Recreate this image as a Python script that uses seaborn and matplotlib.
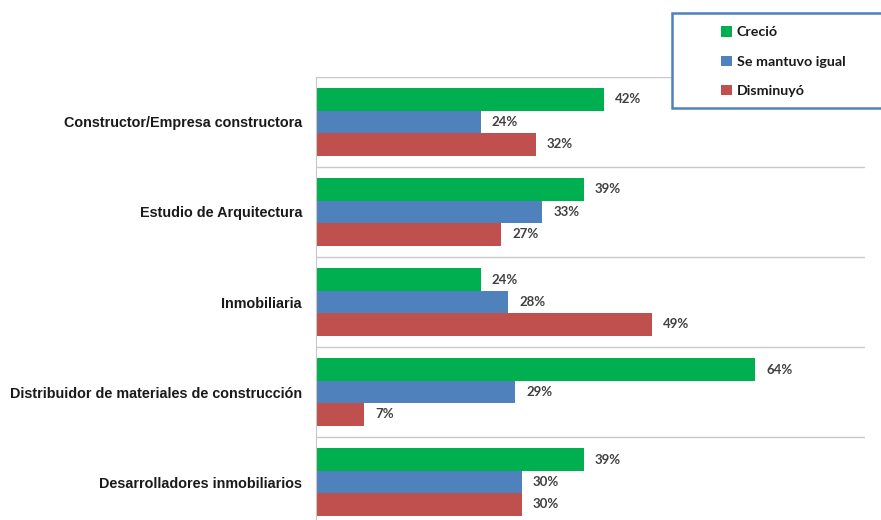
import pandas as pd
import matplotlib
matplotlib.use("Agg")
import matplotlib.pyplot as plt
import seaborn as sns
from matplotlib.patches import Rectangle

# -------------------------------
# DATA
# -------------------------------
categorias = [
    "Constructor/Empresa constructora",
    "Estudio de Arquitectura",
    "Inmobiliaria",
    "Distribuidor de materiales de construcción",
    "Desarrolladores inmobiliarios",
]
crecio = [42, 39, 24, 64, 39]
se_mantuvo = [24, 33, 28, 29, 30]
disminuyo = [32, 27, 49, 7, 30]
series = ["Creció", "Se mantuvo igual", "Disminuyó"]
colores = ["#00B050", "#4F81BD", "#C0504D"]

df = pd.DataFrame({
    "categoria": categorias * 3,
    "estado": [series[0]] * 5 + [series[1]] * 5 + [series[2]] * 5,
    "valor": crecio + se_mantuvo + disminuyo,
})

# -------------------------------
# PLOT
# -------------------------------
sns.set_style("white")
plt.rcParams['font.family'] = ['Liberation Sans', 'DejaVu Sans']

fig = plt.figure(figsize=(8.81, 5.2), dpi=100)
ax = fig.add_axes([316 / 881, -7 / 520, 549 / 881, 450 / 520])

sns.barplot(data=df, y="categoria", x="valor", hue="estado", order=categorias,
            hue_order=series, palette=colores, width=0.75, orient="h",
            saturation=1, ax=ax, errorbar=None, linewidth=0)

ax.set_xlim(0, 80)
ax.set_ylim(4.5, -0.5)
ax.set_xlabel("")
ax.set_ylabel("")
ax.set_xticks([])

# separators between groups
ax.set_yticks([i - 0.5 for i in range(5)], minor=True)
ax.grid(axis="y", which="minor", color="#C8C8C8", linewidth=1)
ax.grid(axis="y", which="major", visible=False)
ax.tick_params(axis="y", which="minor", length=8, color="#C8C8C8", width=1)
ax.tick_params(axis="y", which="major", length=0, pad=10)
for lbl in ax.get_yticklabels():
    lbl.set_fontweight("bold")
    lbl.set_fontsize(10.35)
    lbl.set_color("#1A1A1A")

for side in ["top", "right", "bottom"]:
    ax.spines[side].set_visible(False)
ax.spines["left"].set_color("#C8C8C8")

for cont in ax.containers:
    ax.bar_label(cont, fmt="%d%%", padding=8, fontsize=9.5,
                 fontweight="bold", color="#404040", family=["Lato", "DejaVu Sans"])

# legend
handles, labels = ax.get_legend_handles_labels()
ax.get_legend().remove()
fig.patches.append(Rectangle((672 / 881, 1 - 108 / 520), 0.26, 95 / 520,
                             transform=fig.transFigure, facecolor="white",
                             edgecolor="#4F81BD", linewidth=1.8, zorder=5))
leg = fig.legend(handles, labels, loc="upper left",
                 bbox_to_anchor=(714 / 881, 1 - 19 / 520), frameon=False,
                 handlelength=0.75, handleheight=0.75, handletextpad=0.35,
                 labelspacing=1.2, borderpad=0,
                 prop={"family": "Lato", "weight": "bold", "size": 10.3})
leg.set_zorder(6)
for t in leg.get_texts():
    t.set_color("#1A1A1A")

plt.savefig("out.png", dpi=100)
